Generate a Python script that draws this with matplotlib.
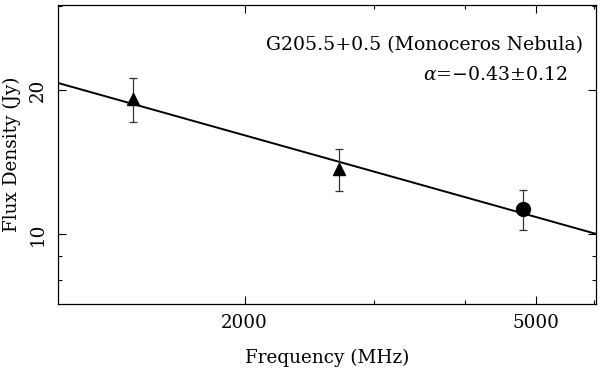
import matplotlib
matplotlib.use("Agg")
import matplotlib.pyplot as plt
from matplotlib.ticker import FixedLocator, NullFormatter, FixedFormatter
import numpy as np

# Data
freq_tri = [1408, 2695]
flux_tri = [19.2, 13.7]
err_tri = [2.0, 1.4]
freq_circ = [4800]
flux_circ = [11.3]
err_circ = [1.1]

# Fit: S = S_1GHz * (nu/1000)^alpha
alpha = -0.43
s_1ghz = 21.7

x_major = [2000, 5000]
x_major_labels = ["2000", "5000"]
x_minor = [3000, 4000, 6000]
y_major = [10, 20]
y_major_labels = ["10", "20"]
y_minor = [8, 9, 30]

title_text = "G205.5+0.5 (Monoceros Nebula)"
alpha_text = r"$\alpha$=−0.43±0.12"

plt.rcParams['font.family'] = ['DejaVu Serif']
plt.rcParams['mathtext.fontset'] = 'dejavuserif'

fs = 13.2

fig = plt.figure(figsize=(6.0, 3.72), dpi=100)
ax = fig.add_axes([0.0972, 0.1828, 0.8961, 0.8038])
ax.set_xscale('log')
ax.set_yscale('log')
xmin, xmax = 1113, 6040
ax.set_xlim(xmin, xmax)
ax.set_ylim(7.14, 30.2)

xf = np.array([xmin, xmax])
ax.plot(xf, s_1ghz * (xf / 1000.0) ** alpha, color='black', lw=1.4, zorder=2)

ax.errorbar(freq_tri, flux_tri, yerr=err_tri, fmt='^', color='black', ms=8,
            ecolor='#333333', elinewidth=0.9, capsize=3, capthick=0.9, zorder=3)
ax.errorbar(freq_circ, flux_circ, yerr=err_circ, fmt='o', color='black', ms=10,
            ecolor='#333333', elinewidth=0.9, capsize=3, capthick=0.9, zorder=3)

ax.xaxis.set_major_locator(FixedLocator(x_major))
ax.xaxis.set_major_formatter(FixedFormatter(x_major_labels))
ax.xaxis.set_minor_locator(FixedLocator(x_minor))
ax.xaxis.set_minor_formatter(NullFormatter())
ax.yaxis.set_major_locator(FixedLocator(y_major))
ax.yaxis.set_major_formatter(FixedFormatter(y_major_labels))
ax.yaxis.set_minor_locator(FixedLocator(y_minor))
ax.yaxis.set_minor_formatter(NullFormatter())

ax.tick_params(which='both', direction='in', top=True, right=True, width=0.8, labelsize=fs)
ax.tick_params(which='major', length=6)
ax.tick_params(which='minor', length=3)
ax.tick_params(axis='x', pad=7)
ax.tick_params(axis='y', pad=8)
for lab in ax.get_yticklabels():
    lab.set_rotation(90)
    lab.set_va('center')

for s in ax.spines.values():
    s.set_linewidth(0.9)

ax.set_xlabel("Frequency (MHz)", fontsize=fs, labelpad=12)
ax.set_ylabel("Flux Density (Jy)", fontsize=fs, labelpad=6)

ax.text(0.975, 0.865, title_text, transform=ax.transAxes, ha='right', va='center', fontsize=13.6)
ax.text(0.947, 0.765, alpha_text, transform=ax.transAxes, ha='right', va='center', fontsize=13.6)

fig.savefig("out.png", dpi=100)
